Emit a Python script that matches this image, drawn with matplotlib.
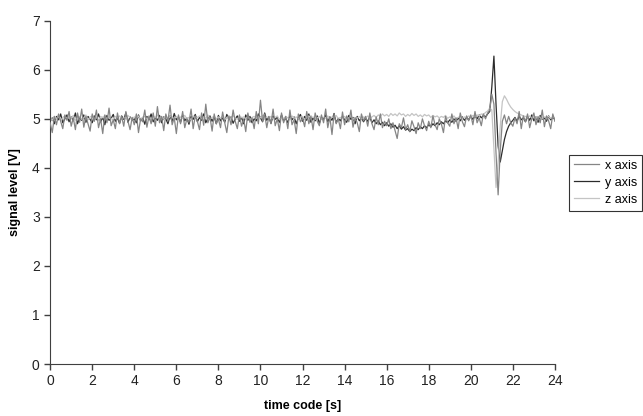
import numpy as np
import matplotlib
matplotlib.use("Agg")
import matplotlib.pyplot as plt

plt.rcParams['font.family'] = ['Liberation Sans', 'DejaVu Sans']

# sample times, 0.1 s step
t = np.linspace(0, 24, 241)

x_axis = [
    4.92, 4.72, 5.05, 4.88, 5.10, 4.95, 4.80, 5.08, 4.97, 5.15,
    4.85, 5.02, 4.78, 5.12, 4.93, 5.20, 4.83, 5.05, 4.90, 4.75,
    5.10, 4.95, 5.18, 4.82, 5.00, 4.70, 5.08, 4.92, 5.22, 4.86,
    4.98, 4.80, 5.12, 4.90, 5.05, 4.85, 5.15, 4.95, 4.78, 5.03,
    4.88, 5.10, 4.72, 5.00, 4.94, 5.18, 4.83, 5.06, 4.90, 5.12,
    4.85, 5.25, 4.92, 5.05, 4.76, 5.10, 4.95, 5.28, 4.88, 5.02,
    4.70, 5.08, 4.90, 5.15, 4.82, 5.00, 4.93, 5.20, 4.80, 5.06,
    4.95, 4.78, 5.12, 4.87, 5.30, 4.92, 5.04, 4.75, 5.10, 4.90,
    5.00, 4.82, 5.14, 4.92, 4.72, 5.06, 4.88, 5.18, 4.95, 4.80,
    5.08, 4.85, 5.00, 4.74, 5.12, 4.93, 5.02, 4.80, 5.15, 4.90,
    5.38, 4.95, 5.10, 4.82, 5.05, 4.90, 5.20, 4.86, 5.00, 4.76,
    5.12, 4.92, 5.05, 4.80, 5.18, 4.88, 4.98, 4.70, 5.10, 4.94,
    5.02, 4.84, 5.15, 4.90, 5.06, 4.78, 5.12, 4.95, 4.86, 5.08,
    4.92, 5.20, 4.82, 5.04, 4.68, 5.10, 4.90, 5.00, 4.80, 5.14,
    4.88, 5.06, 4.94, 5.18, 4.83, 5.02, 4.92, 4.74, 5.10, 4.96,
    5.05, 4.85, 5.12, 4.90, 4.78, 5.04, 4.88, 5.10, 4.82, 4.95,
    4.86, 5.00, 4.80, 4.92, 4.76, 4.60, 4.90, 4.82, 5.02, 4.78,
    4.88, 4.74, 4.96, 4.84, 4.70, 4.92, 4.80, 5.00, 4.86, 4.76,
    4.95, 4.82, 5.06, 4.88, 4.78, 5.00, 4.90, 4.72, 5.05, 4.92,
    4.85, 5.10, 4.90, 5.02, 4.80, 5.12, 4.94, 4.84, 5.06, 4.96,
    5.08, 4.88, 5.15, 4.92, 5.02, 4.86, 5.10, 5.00, 5.12, 5.18,
    5.50, 5.30, 4.30, 3.45, 4.35, 4.95, 5.08, 4.90, 5.05, 4.92,
    4.85, 5.02, 4.90, 5.15, 4.80, 5.06, 4.94, 5.10, 4.82, 5.00,
    5.12, 4.88, 5.04, 4.92, 5.18, 4.84, 5.06, 4.96, 4.80, 5.10,
    4.95,
]

y_axis = [
    4.95, 5.02, 4.90, 5.05, 4.98, 5.10, 4.92, 5.00, 5.08, 4.94,
    5.04, 4.96, 5.12, 4.90, 5.02, 4.97, 5.08, 4.93, 5.05, 4.99,
    4.92, 5.06, 4.98, 5.10, 4.94, 5.03, 4.88, 5.07, 4.97, 5.01,
    5.09, 4.95, 5.02, 4.91, 5.06, 4.99, 5.12, 4.93, 5.04, 4.97,
    5.00, 4.92, 5.08, 4.96, 5.03, 4.89, 5.05, 4.98, 5.10, 4.94,
    5.02, 4.97, 5.07, 4.92, 5.04, 5.00, 4.90, 5.06, 4.95, 5.11,
    4.98, 5.04, 4.93, 5.08, 4.96, 5.02, 4.89, 5.05, 4.99, 5.09,
    4.94, 5.03, 4.97, 5.10, 4.92, 5.01, 5.06, 4.95, 5.04, 4.90,
    5.07, 4.96, 5.02, 4.93, 5.09, 4.98, 5.04, 4.91, 5.00, 5.06,
    4.95, 5.03, 4.90, 5.08, 4.97, 5.05, 4.92, 5.00, 4.96, 5.10,
    5.02, 4.94, 5.12, 4.97, 5.04, 4.91, 5.06, 4.99, 5.03, 4.93,
    5.08, 4.96, 5.01, 4.92, 5.07, 4.98, 5.04, 4.90, 5.02, 5.09,
    4.95, 5.05, 4.97, 5.10, 4.93, 5.02, 4.96, 5.06, 4.91, 5.03,
    4.99, 5.08, 4.94, 5.04, 4.97, 5.11, 4.92, 5.01, 4.96, 5.05,
    4.98, 4.93, 5.07, 4.99, 5.03, 4.90, 5.05, 4.96, 5.02, 4.94,
    5.01, 4.95, 5.04, 4.92, 4.98, 4.90, 4.96, 4.88, 4.93, 4.86,
    4.92, 4.85, 4.90, 4.83, 4.87, 4.80, 4.86, 4.79, 4.84, 4.77,
    4.80, 4.74, 4.79, 4.76, 4.82, 4.78, 4.84, 4.80, 4.86, 4.82,
    4.88, 4.84, 4.90, 4.86, 4.92, 4.88, 4.94, 4.90, 4.96, 4.92,
    4.98, 4.93, 5.00, 4.95, 5.02, 4.96, 5.04, 4.97, 5.03, 4.98,
    5.05, 4.99, 5.06, 5.00, 5.08, 5.02, 5.07, 5.04, 5.10, 5.15,
    5.65, 6.28, 5.30, 4.45, 4.12, 4.35, 4.58, 4.74, 4.85, 4.92,
    4.97, 5.03, 4.95, 5.06, 4.98, 5.02, 4.94, 5.05, 4.97, 5.08,
    4.96, 5.04, 4.93, 5.07, 4.99, 5.02, 4.95, 5.06, 4.98, 5.03,
    4.99,
]

z_axis = [
    5.02, 4.98, 5.05, 5.00, 5.08, 4.96, 5.03, 5.06, 4.99, 5.04,
    5.01, 5.07, 4.97, 5.03, 5.05, 4.99, 5.02, 5.08, 4.98, 5.04,
    5.06, 5.00, 5.03, 4.97, 5.05, 5.02, 5.07, 4.99, 5.04, 5.01,
    4.98, 5.05, 5.02, 5.06, 4.99, 5.03, 5.00, 5.07, 5.02, 4.98,
    5.04, 5.01, 5.06, 4.98, 5.03, 5.05, 5.00, 5.04, 4.97, 5.06,
    5.02, 5.08, 5.00, 5.04, 5.01, 5.06, 4.99, 5.05, 5.03, 5.00,
    5.05, 4.99, 5.04, 5.02, 5.07, 5.00, 5.03, 4.98, 5.06, 5.02,
    5.03, 5.06, 5.00, 5.04, 5.01, 5.08, 4.99, 5.03, 5.05, 5.00,
    5.04, 5.01, 5.06, 4.98, 5.03, 5.05, 5.00, 5.07, 5.02, 4.99,
    5.05, 5.02, 5.04, 5.00, 5.06, 4.98, 5.03, 5.05, 5.01, 5.04,
    5.02, 5.07, 4.99, 5.04, 5.01, 5.05, 5.00, 5.03, 5.06, 4.98,
    5.03, 5.00, 5.05, 5.02, 4.99, 5.06, 5.01, 5.04, 5.00, 5.03,
    5.05, 4.98, 5.03, 5.06, 5.01, 5.04, 4.99, 5.02, 5.05, 5.00,
    5.03, 5.01, 5.06, 4.99, 5.04, 5.02, 5.07, 5.00, 5.03, 5.01,
    5.05, 5.00, 5.02, 5.06, 4.99, 5.03, 5.01, 5.05, 5.00, 5.04,
    5.02, 5.06, 5.01, 5.04, 5.07, 5.03, 5.08, 5.05, 5.10, 5.06,
    5.09, 5.05, 5.11, 5.07, 5.10, 5.06, 5.12, 5.08, 5.10, 5.05,
    5.09, 5.06, 5.11, 5.07, 5.10, 5.05, 5.08, 5.04, 5.09, 5.06,
    5.08, 5.03, 5.07, 5.04, 5.06, 5.02, 5.05, 5.03, 5.07, 5.01,
    5.04, 5.02, 5.06, 5.00, 5.03, 5.05, 5.01, 5.04, 5.02, 5.06,
    5.03, 5.07, 5.04, 5.08, 5.06, 5.10, 5.09, 5.13, 5.16, 5.22,
    5.18, 4.40, 3.60, 4.10, 4.85, 5.35, 5.47, 5.40, 5.31, 5.24,
    5.19, 5.15, 5.12, 5.10, 5.08, 5.06, 5.05, 5.03, 5.06, 5.02,
    5.04, 5.01, 5.05, 5.03, 5.00, 5.04, 5.02, 5.05, 5.01, 5.03,
    5.02,
]

labels = ["x axis", "y axis", "z axis"]
colors = ["#858585", "#2b2b2b", "#c4c4c4"]
layers = [3, 1, 2]  # y at the back, z over it, x on top

fig = plt.figure(figsize=(6.43, 4.16), dpi=100)
ax = fig.add_axes([0.078, 0.125, 0.785, 0.825])

for vals, lab, col, z in zip([x_axis, y_axis, z_axis], labels, colors, layers):
    ax.plot(t, vals, color=col, lw=0.9, label=lab, zorder=z)

ax.set_xlim(0, 24)
ax.set_ylim(0, 7)
ax.set_xticks(range(0, 25, 2))
ax.set_yticks(range(0, 8))
ax.spines['top'].set_visible(False)
ax.spines['right'].set_visible(False)
ax.spines['left'].set_color('#404040')
ax.spines['bottom'].set_color('#404040')
ax.tick_params(direction='out', length=4, width=1, color='#404040', labelsize=10, labelcolor='#222222')

ax.set_xlabel("time code [s]", fontsize=9, fontweight='bold', labelpad=8)
ax.set_ylabel("signal level [V]", fontsize=9, fontweight='bold', labelpad=8)

leg = ax.legend(loc='upper left', bbox_to_anchor=(1.027, 0.61), fontsize=9,
                frameon=True, fancybox=False, handlelength=2.0, borderpad=0.4,
                labelspacing=0.4, handletextpad=0.5, borderaxespad=0)
leg.get_frame().set_edgecolor('black')
leg.get_frame().set_linewidth(0.8)

fig.savefig("out.png", dpi=100)
